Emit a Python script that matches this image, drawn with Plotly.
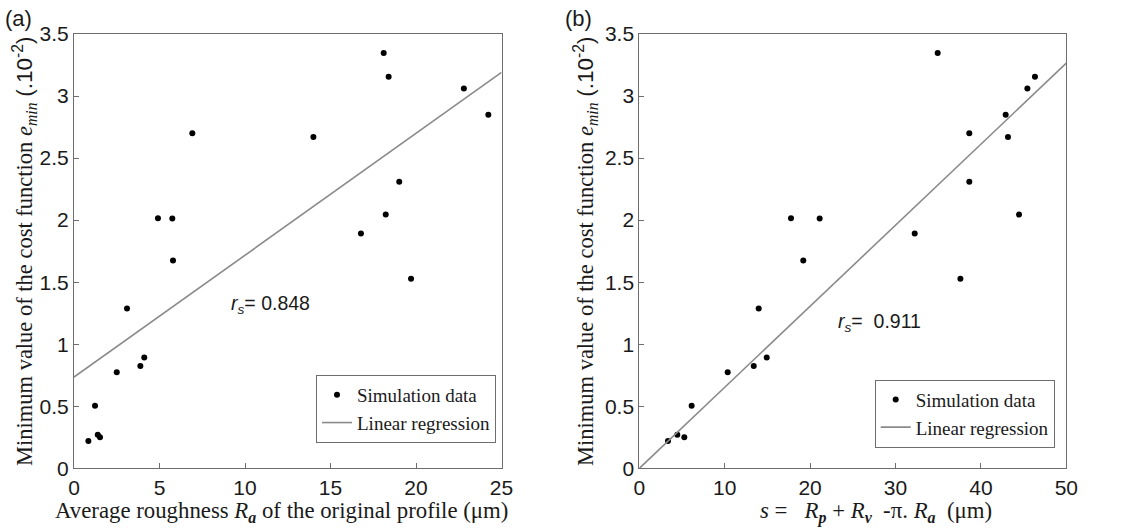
import plotly.graph_objects as go

# ---- data ----
ra_x = [18.11, 18.40, 22.80, 24.23, 6.92, 14.00, 19.02, 4.91, 5.75, 18.23, 16.78,
        5.79, 19.71, 3.10, 4.11, 3.88, 2.50, 1.23, 0.84, 1.39, 1.52]
s_x = [34.94, 46.33, 45.44, 42.90, 38.64, 43.17, 38.64, 17.76, 21.12, 44.46, 32.25,
       19.20, 37.60, 13.98, 14.92, 13.40, 10.35, 6.13, 3.36, 4.45, 5.27]
emin = [3.347, 3.156, 3.06, 2.85, 2.70, 2.67, 2.31, 2.016, 2.013, 2.045, 1.892,
        1.674, 1.527, 1.287, 0.892, 0.825, 0.774, 0.505, 0.22, 0.27, 0.25]

reg_a_x = [0, 25]
reg_a_y = [0.735, 3.19]
reg_b_x = [0, 50]
reg_b_y = [0.0, 3.265]

y_ticks = [0, 0.5, 1, 1.5, 2, 2.5, 3, 3.5]
y_ticktext = ["0", "0.5", "1", "1.5", "2", "2.5", "3", "3.5"]
xa_ticks = [0, 5, 10, 15, 20, 25]
xb_ticks = [0, 10, 20, 30, 40, 50]

W, H = 1121, 532
SANS = "Liberation Sans"
SERIF = "Liberation Serif"
AXC = "#6e6e6e"
REGC = "#8a8a8a"
TXT = "#1a1a1a"

fig = go.Figure()

fig.add_trace(go.Scatter(x=ra_x, y=emin, mode="markers", name="Simulation data",
                         marker=dict(color="black", size=6), xaxis="x", yaxis="y",
                         legend="legend"))
fig.add_trace(go.Scatter(x=reg_a_x, y=reg_a_y, mode="lines", name="Linear regression",
                         line=dict(color=REGC, width=1.6), xaxis="x", yaxis="y",
                         legend="legend"))
fig.add_trace(go.Scatter(x=s_x, y=emin, mode="markers", name="Simulation data",
                         marker=dict(color="black", size=6), xaxis="x2", yaxis="y2",
                         legend="legend2"))
fig.add_trace(go.Scatter(x=reg_b_x, y=reg_b_y, mode="lines", name="Linear regression",
                         line=dict(color=REGC, width=1.6), xaxis="x2", yaxis="y2",
                         legend="legend2"))

y0, y1 = (H - 468.3) / H, (H - 34) / H
xa_dom = [74 / W, 501.5 / W]
xb_dom = [639.3 / W, 1066.3 / W]

axis_common = dict(showline=True, linecolor=AXC, linewidth=1, mirror=True,
                   ticks="inside", ticklen=5, tickcolor=AXC, showgrid=False,
                   zeroline=False, automargin=False,
                   tickfont=dict(family=SANS, size=21, color=TXT))

legend_common = dict(xanchor="right", yanchor="middle", bgcolor="white",
                     bordercolor=AXC, borderwidth=1,
                     font=dict(family=SERIF, size=19, color=TXT), tracegroupgap=0,
                     itemwidth=30)

fig.update_layout(
    width=W, height=H,
    margin=dict(l=0, r=0, t=0, b=0, autoexpand=False),
    paper_bgcolor="white", plot_bgcolor="white",
    xaxis=dict(domain=xa_dom, range=[0, 25], tickvals=xa_ticks, anchor="y", **axis_common),
    yaxis=dict(domain=[y0, y1], range=[0, 3.5], tickvals=y_ticks, ticktext=y_ticktext,
               anchor="x", **axis_common),
    xaxis2=dict(domain=xb_dom, range=[0, 50], tickvals=xb_ticks, anchor="y2", **axis_common),
    yaxis2=dict(domain=[y0, y1], range=[0, 3.5], tickvals=y_ticks, ticktext=y_ticktext,
                anchor="x2", **axis_common),
    legend=dict(x=496 / W, y=(H - 409) / H, **legend_common),
    legend2=dict(x=1054.7 / W, y=(H - 413.6) / H, **legend_common),
)

ytitle = ("Minimum value of the cost function <i>e<sub>min</sub></i> "
          "<span style='font-family:Liberation Sans'>(.10<sup>-2</sup>)</span>")

ann = []
# y-axis titles
for xc in (25 / W, 586 / W):
    ann.append(dict(text=ytitle, x=xc, y=(H - 251) / H, xref="paper", yref="paper",
                    textangle=-90, showarrow=False, xanchor="center", yanchor="middle",
                    font=dict(family=SERIF, size=22.5, color=TXT)))
# x-axis titles
ann.append(dict(text="Average roughness <i>R</i><sub><b><i>a</i></b></sub> of the original profile (μm)",
                x=281.5 / W, y=(H - 512) / H, xref="paper", yref="paper", showarrow=False,
                xanchor="center", yanchor="middle",
                font=dict(family=SERIF, size=22.8, color=TXT)))
ann.append(dict(text="<i>s</i> =   <i>R</i><sub><b><i>p</i></b></sub> + <i>R</i><sub><b><i>v</i></b></sub>  -π. <i>R</i><sub><b><i>a</i></b></sub>  (μm)",
                x=876 / W, y=(H - 512) / H, xref="paper", yref="paper", showarrow=False,
                xanchor="center", yanchor="middle",
                font=dict(family=SERIF, size=22.8, color=TXT)))
# r_s annotations
ann.append(dict(text="<i>r<sub>s</sub></i>= 0.848", x=270 / W, y=(H - 304) / H,
                xref="paper", yref="paper", showarrow=False, xanchor="center",
                yanchor="middle", font=dict(family=SANS, size=19.5, color=TXT)))
ann.append(dict(text="<i>r<sub>s</sub></i>=  0.911", x=879 / W, y=(H - 322) / H,
                xref="paper", yref="paper", showarrow=False, xanchor="center",
                yanchor="middle", font=dict(family=SANS, size=19.5, color=TXT)))
# panel labels
ann.append(dict(text="(a)", x=3 / W, y=(H - 19) / H, xref="paper", yref="paper",
                showarrow=False, xanchor="left", yanchor="middle",
                font=dict(family=SANS, size=22, color=TXT)))
ann.append(dict(text="(b)", x=563 / W, y=(H - 19) / H, xref="paper", yref="paper",
                showarrow=False, xanchor="left", yanchor="middle",
                font=dict(family=SANS, size=22, color=TXT)))

fig.update_layout(annotations=ann)
fig.write_html("out.html", config={"displayModeBar": False},
               post_script="document.body.style.margin='0';")
